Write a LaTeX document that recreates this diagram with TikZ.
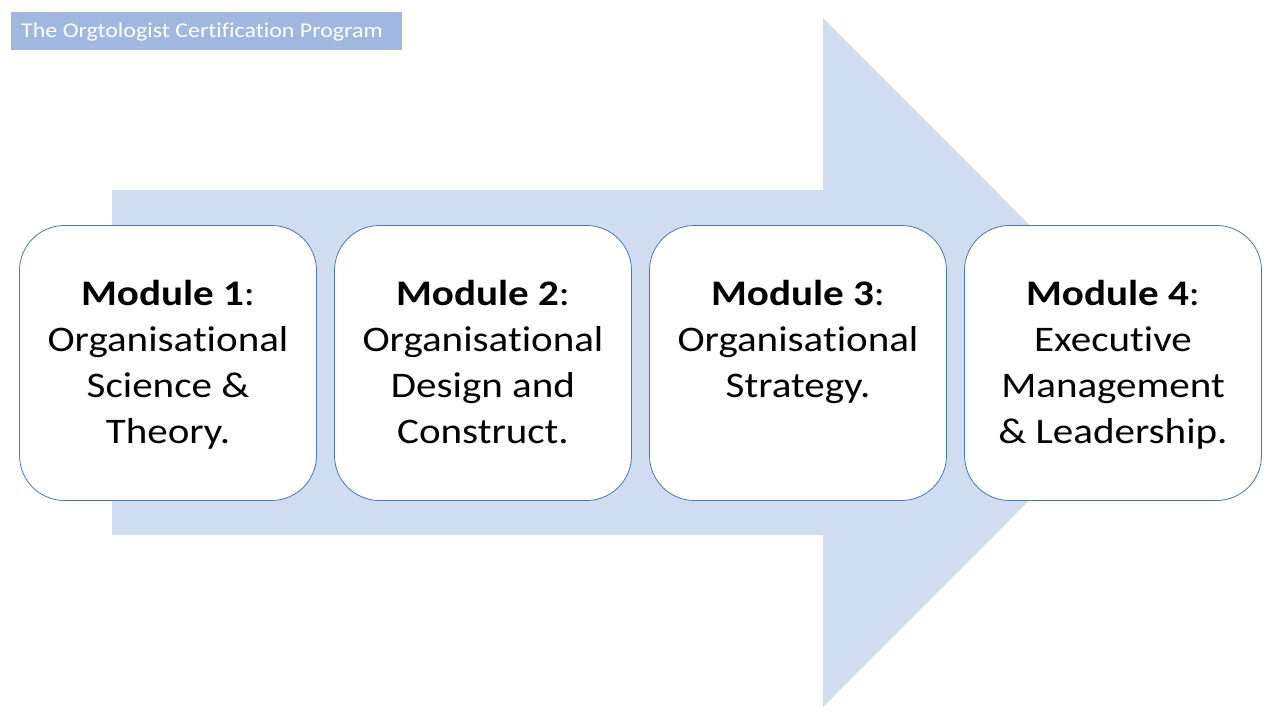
\documentclass[tikz,border=0pt]{standalone}
\usepackage{fontspec}
\setmainfont{Carlito}[FakeStretch=1.14,Ligatures=NoCommon]
\definecolor{arrowfill}{HTML}{D0DCEF}
\definecolor{titlefill}{HTML}{A1B7E0}
\definecolor{boxline}{HTML}{4878B0}
\newcommand{\orgword}{Organisat\kern0pt ional}
\begin{document}
\begin{tikzpicture}[x=1pt,y=-1pt,
  modbox/.style={draw=boxline, line width=0.8pt, fill=white, rounded corners=45pt, minimum width=297pt, minimum height=275pt, inner sep=0pt},
  modtext/.style={anchor=north, align=center, inner sep=0pt, font=\fontsize{36}{46}\selectfont}]
\useasboundingbox (0,0) rectangle (1280,720);
\fill[white] (0,0) rectangle (1280,720);
% big arrow
\fill[arrowfill] (112,190) -- (823,190) -- (823,18) -- (1167,362.5) -- (823,707) -- (823,535) -- (112,535) -- cycle;
% title
\node[fill=titlefill, minimum width=391pt, minimum height=38pt, inner sep=0pt, anchor=north west] (title) at (11,12) {};
\node[anchor=west, text=white, font=\fontsize{21}{25}\selectfont, inner sep=0pt] (titletext) at (21,32) {The Orgtologist Certif\kern0pt icat\kern0pt ion Program};
% modules
\node[modbox] (m1) at (168,363) {};
\node[modbox] (m2) at (483,363) {};
\node[modbox] (m3) at (798,363) {};
\node[modbox] (m4) at (1113,363) {};
\node[modtext] (t1) at (168,280) {\textbf{Module 1}:\\\orgword\\Science \&\\Theory.};
\node[modtext] (t2) at (483,280) {\textbf{Module 2}:\\\orgword\\Design and\\Construct.};
\node[modtext] (t3) at (798,280) {\textbf{Module 3}:\\\orgword\\Strategy.};
\node[modtext] (t4) at (1113,280) {\textbf{Module 4}:\\Execut\kern0pt ive\\Management\\\& Leadership.};
\end{tikzpicture}
\end{document}
